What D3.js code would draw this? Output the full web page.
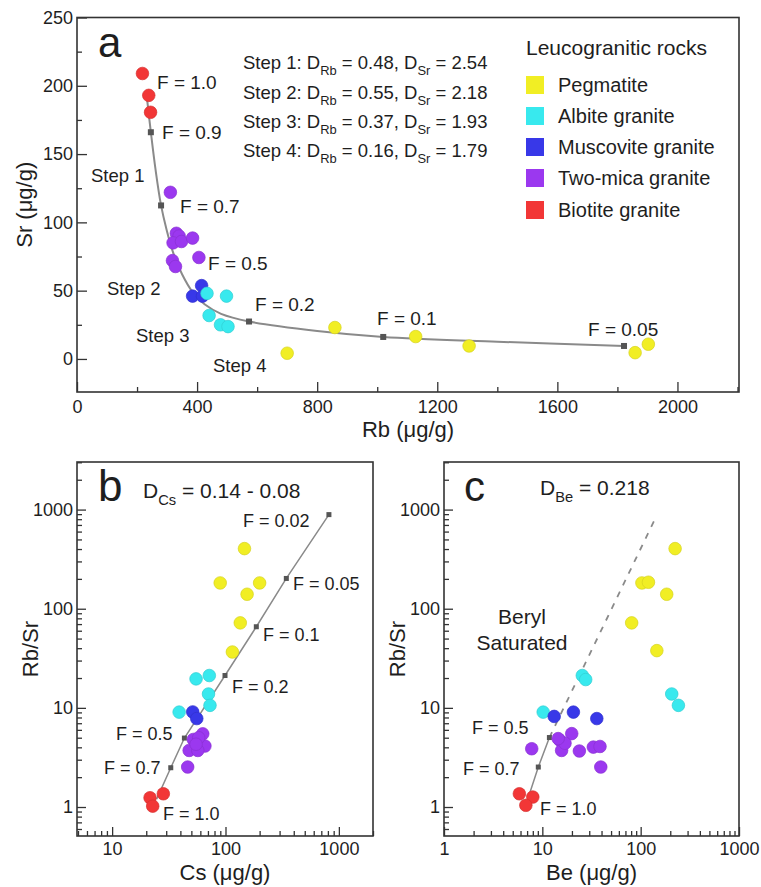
<!DOCTYPE html>
<html><head><meta charset="utf-8">
<script src="https://cdn.jsdelivr.net/npm/d3@7"></script>
<style>
body{margin:0;background:#fff}
text{font-family:"Liberation Sans",Arial,Helvetica,sans-serif;fill:#1e1e1e}
</style>
</head><body>
<svg id="chart" width="761" height="887"></svg>
<script>
// ---------------- DATA ----------------
const groups = ["Pegmatite", "Albite granite", "Muscovite granite", "Two-mica granite", "Biotite granite"];
const groupColors = ["#f1ee24", "#38e9ee", "#3838e8", "#9b38ef", "#f23636"];
// group index: 0 Pegmatite, 1 Albite, 2 Muscovite, 3 Two-mica, 4 Biotite

// Panel a: Rb vs Sr
const aRb    = [218, 239, 245,  311, 331, 340, 320, 348, 385, 406, 318, 328,  415, 385, 418,  433, 498, 440, 478, 503,  700, 859, 1128, 1306, 1859, 1903];
const aSr    = [209, 193, 180.6, 122, 92, 90, 85, 86, 88.5, 74.3, 72, 67.7,  53.7, 46, 46,  48, 46, 31.8, 25, 23.7,  4.2, 23, 16.4, 9.5, 4.6, 10.8];
const aGroup = [4, 4, 4,  3, 3, 3, 3, 3, 3, 3, 3, 3,  2, 2, 2,  1, 1, 1, 1, 1,  0, 0, 0, 0, 0, 0];
// fractionation curve
const aCurveRb = [232, 246, 262, 280, 298, 320, 350, 385, 425, 480, 573, 800, 1020, 1400, 1822];
const aCurveSr = [193, 166, 138, 112.4, 95, 78, 62, 49, 40, 33, 27.4, 20.5, 16.1, 12.6, 9.5];
const aMarkRb = [246, 280, 573, 1020, 1822];
const aMarkSr = [166, 112.4, 27.4, 16.1, 9.5];
const aXTicks = [0, 400, 800, 1200, 1600, 2000];
const aXMinor = [200, 600, 1000, 1400, 1800, 2200];
const aYTicks = [0, 50, 100, 150, 200, 250];
const aYMinor = [25, 75, 125, 175, 225];
const aFLabels = ["F = 1.0", "F = 0.9", "F = 0.7", "F = 0.5", "F = 0.2", "F = 0.1", "F = 0.05"];
const aSteps = [
  ["Step 1", "0.48", "2.54"],
  ["Step 2", "0.55", "2.18"],
  ["Step 3", "0.37", "1.93"],
  ["Step 4", "0.16", "1.79"]
];
const aStepLabels = ["Step 1", "Step 2", "Step 3", "Step 4"];

// Panel b: Cs vs Rb/Sr
const bCs    = [147, 89.8, 200, 155, 135, 115,  55, 72, 70.8, 73, 39,  51.4, 55.8,  63, 52, 65.8, 47.8, 57, 46.4, 58, 55,  21.6, 28.3, 22.8];
const bRbSr  = [404, 182, 182, 140, 72, 36.6,  19.6, 21.2, 13.8, 10.6, 9.06,  9.1, 7.8,  5.47, 4.8, 4.12, 3.72, 3.72, 2.53, 5.0, 4.3,  1.24, 1.36, 1.02];
const bGroup = [0, 0, 0, 0, 0, 0,  1, 1, 1, 1, 1,  2, 2,  3, 3, 3, 3, 3, 3, 3, 3,  4, 4, 4];
const bLineCs   = [24.7, 32.9, 43.4, 99, 187, 344, 817];
const bLineRbSr = [1.2, 2.49, 4.96, 21.2, 65.8, 202, 890];
const bFLabels = ["F = 1.0", "F = 0.7", "F = 0.5", "F = 0.2", "F = 0.1", "F = 0.05", "F = 0.02"];

// Panel c: Be vs Rb/Sr
const cBe    = [224, 103, 120, 184, 81, 146,  25.5, 27.6, 207, 242, 10.2,  13.2, 20.7, 35.8,  7.8, 15.1, 19.9, 15.7, 23.8, 33, 38.6, 39.3, 17, 14.5,  5.84, 8.0, 6.8];
const cRbSr  = [404, 182, 185, 140, 72, 37.8,  21.2, 19.3, 13.8, 10.6, 9.06,  8.2, 9.06, 7.8,  3.87, 4.7, 5.5, 3.72, 3.67, 4.02, 4.08, 2.53, 4.4, 4.9,  1.36, 1.26, 1.04];
const cGroup = [0, 0, 0, 0, 0, 0,  1, 1, 1, 1, 1,  2, 2, 2,  3, 3, 3, 3, 3, 3, 3, 3, 3, 3,  4, 4, 4];
const cLineBe   = [7.3, 9.1, 11.8];
const cLineRbSr = [1.3, 2.53, 5.02];
const cDashBe   = [11.8, 146];
const cDashRbSr = [5.02, 877];
const cFLabels = ["F = 1.0", "F = 0.7", "F = 0.5"];

const logMajorY = [1, 10, 100, 1000];
const logMajorXb = [10, 100, 1000];
const logMajorXc = [1, 10, 100, 1000];

// ---------------- DRAW ----------------
const svg = d3.select("#chart");
const FRAME = "#333";
const LINE = "#8a8a8a";
const MARK = "#555";

function minorLog(lo, hi) {
  const out = [];
  for (let e = -1; e <= 4; e++) for (let m = 2; m <= 9; m++) {
    const v = m * Math.pow(10, e);
    if (v >= lo && v <= hi) out.push(v);
  }
  return out;
}

function rich(g, x, y, parts, fs, anchor) {
  const t = g.append("text").attr("x", x).attr("y", y).attr("font-size", fs)
    .attr("text-anchor", anchor || "start");
  let sub = false;
  parts.forEach(p => {
    const isSub = p[1];
    const ts = t.append("tspan").text(p[0]);
    if (isSub && !sub) ts.attr("dy", fs * 0.32).attr("font-size", fs * 0.7);
    else if (!isSub && sub) ts.attr("dy", -fs * 0.32);
    if (isSub) ts.attr("font-size", fs * 0.7);
    sub = isSub;
  });
  return t;
}

function styleAxis(g, fs) {
  g.select(".domain").remove();
  g.selectAll(".tick line").attr("stroke", FRAME).attr("stroke-width", 1.3);
  g.selectAll(".tick text").attr("font-size", fs).attr("fill", "#1e1e1e")
    .attr("font-family", '"Liberation Sans",Arial,sans-serif');
}

function panel(opt) {
  const g = svg.append("g");
  const x = opt.x, y = opt.y;
  const [x0, x1] = x.range(), [y1, y0] = y.range();
  // axes
  const ax = g.append("g").attr("transform", `translate(0,${y1})`)
    .call(d3.axisBottom(x).tickValues(opt.xTicks).tickSize(-opt.major).tickPadding(opt.xPad).tickFormat(d3.format("d")));
  styleAxis(ax, 18);
  const axm = g.append("g").attr("transform", `translate(0,${y1})`)
    .call(d3.axisBottom(x).tickValues(opt.xMinor).tickSize(-opt.minor).tickFormat(""));
  styleAxis(axm, 18);
  const ay = g.append("g").attr("transform", `translate(${x0},0)`)
    .call(d3.axisLeft(y).tickValues(opt.yTicks).tickSize(-opt.major).tickPadding(4).tickFormat(d3.format("d")));
  styleAxis(ay, 18);
  const aym = g.append("g").attr("transform", `translate(${x0},0)`)
    .call(d3.axisLeft(y).tickValues(opt.yMinor).tickSize(-opt.minor).tickFormat(""));
  styleAxis(aym, 18);
  // frame
  g.append("rect").attr("x", x0).attr("y", y0).attr("width", x1 - x0).attr("height", y1 - y0)
    .attr("fill", "none").attr("stroke", FRAME).attr("stroke-width", 1.6);
  // axis titles
  g.append("text").attr("x", (x0 + x1) / 2).attr("y", opt.xTitleY).attr("text-anchor", "middle")
    .attr("font-size", 22).text(opt.xTitle);
  g.append("text").attr("transform", `translate(${opt.yTitleX},${(y0 + y1) / 2}) rotate(-90)`)
    .attr("text-anchor", "middle").attr("font-size", 22).text(opt.yTitle);
  return g;
}

function dots(g, x, y, xs, ys, gs, r) {
  g.append("g").selectAll("circle").data(xs.map((d, i) => i)).join("circle")
    .attr("cx", i => x(xs[i])).attr("cy", i => y(ys[i])).attr("r", r)
    .attr("fill", i => groupColors[gs[i]])
    .attr("stroke", i => d3.color(groupColors[gs[i]]).darker(0.35))
    .attr("stroke-width", 0.7);
}

function marks(g, x, y, xs, ys, s) {
  g.append("g").selectAll("rect").data(xs.map((d, i) => i)).join("rect")
    .attr("x", i => x(xs[i]) - s / 2).attr("y", i => y(ys[i]) - s / 2)
    .attr("width", s).attr("height", s).attr("fill", MARK);
}

// ---- Panel a ----
{
  const x = d3.scaleLinear().domain([0, 2205]).range([77, 739]);
  const y = d3.scaleLinear().domain([-24.2, 250]).range([392, 17.5]);
  const g = panel({x, y, xTicks: aXTicks, xMinor: aXMinor, yTicks: aYTicks, yMinor: aYMinor,
    major: 10, minor: 5, xPad: 8, xTitle: "Rb (μg/g)", xTitleY: 437, yTitle: "Sr (μg/g)", yTitleX: 32});
  const line = d3.line().x((d, i) => x(aCurveRb[i])).y((d, i) => y(aCurveSr[i])).curve(d3.curveCatmullRom.alpha(0.5));
  g.append("path").attr("d", line(aCurveRb)).attr("fill", "none").attr("stroke", LINE).attr("stroke-width", 2);
  marks(g, x, y, aMarkRb, aMarkSr, 6);
  dots(g, x, y, aRb, aSr, aGroup, 6.3);

  g.append("text").attr("x", 98).attr("y", 57).attr("font-size", 42).text("a");
  const fpos = [[157, 89], [162, 139], [180, 213], [208, 270], [255, 311], [377, 325], [588, 336]];
  aFLabels.forEach((t, i) => g.append("text").attr("x", fpos[i][0]).attr("y", fpos[i][1]).attr("font-size", 19).text(t));
  const spos = [[91, 182], [107, 295], [136, 342], [213, 372]];
  aStepLabels.forEach((t, i) => g.append("text").attr("x", spos[i][0]).attr("y", spos[i][1]).attr("font-size", 18.5).text(t));
  const sy = [69, 99, 128, 157];
  aSteps.forEach((s, i) => rich(g, 243, sy[i],
    [[s[0] + ": D", false], ["Rb", true], [" = " + s[1] + ", D", false], ["Sr", true], [" = " + s[2], false]], 18.5));

  // legend
  g.append("text").attr("x", 526).attr("y", 55).attr("font-size", 21).text("Leucogranitic rocks");
  const ly = [85, 116, 147, 178, 210];
  groups.forEach((name, i) => {
    g.append("rect").attr("x", 526).attr("y", ly[i] - 9).attr("width", 18).attr("height", 18).attr("fill", groupColors[i]);
    g.append("text").attr("x", 558).attr("y", ly[i] + 7).attr("font-size", 20).text(name);
  });
}

// ---- Panel b ----
{
  const x = d3.scaleLog().domain([4.9, 2000]).range([77, 373]);
  const y = d3.scaleLog().domain([0.51, 3020]).range([836, 462]);
  const g = panel({x, y, xTicks: logMajorXb, xMinor: minorLog(4.9, 2000), yTicks: logMajorY, yMinor: minorLog(0.51, 3020),
    major: 9, minor: 5, xPad: 6, xTitle: "Cs (μg/g)", xTitleY: 880, yTitle: "Rb/Sr", yTitleX: 38});
  const line = d3.line().x((d, i) => x(bLineCs[i])).y((d, i) => y(bLineRbSr[i]));
  g.append("path").attr("d", line(bLineCs)).attr("fill", "none").attr("stroke", LINE).attr("stroke-width", 1.5);
  marks(g, x, y, bLineCs.slice(1), bLineRbSr.slice(1), 5);
  dots(g, x, y, bCs, bRbSr, bGroup, 6.3);
  g.append("text").attr("x", 98).attr("y", 501).attr("font-size", 44).text("b");
  rich(g, 143, 498, [["D", false], ["Cs", true], [" = 0.14 - 0.08", false]], 21);
  const fpos = [[163, 820], [104, 774], [116, 740], [232, 693], [263, 641], [293, 590], [243, 527]];
  bFLabels.forEach((t, i) => g.append("text").attr("x", fpos[i][0]).attr("y", fpos[i][1]).attr("font-size", 18).text(t));
}

// ---- Panel c ----
{
  const x = d3.scaleLog().domain([1, 1000]).range([444, 739]);
  const y = d3.scaleLog().domain([0.51, 3020]).range([836, 462]);
  const g = panel({x, y, xTicks: logMajorXc, xMinor: minorLog(1, 1000), yTicks: logMajorY, yMinor: minorLog(0.51, 3020),
    major: 9, minor: 5, xPad: 6, xTitle: "Be (μg/g)", xTitleY: 880, yTitle: "Rb/Sr", yTitleX: 405});
  const line = d3.line().x((d, i) => x(cLineBe[i])).y((d, i) => y(cLineRbSr[i]));
  g.append("path").attr("d", line(cLineBe)).attr("fill", "none").attr("stroke", LINE).attr("stroke-width", 1.5);
  const dline = d3.line().x((d, i) => x(cDashBe[i])).y((d, i) => y(cDashRbSr[i]));
  g.append("path").attr("d", dline(cDashBe)).attr("fill", "none").attr("stroke", LINE).attr("stroke-width", 1.8)
    .attr("stroke-dasharray", "6,7");
  marks(g, x, y, cLineBe.slice(1), cLineRbSr.slice(1), 5);
  dots(g, x, y, cBe, cRbSr, cGroup, 6.3);
  g.append("text").attr("x", 464).attr("y", 501).attr("font-size", 42).text("c");
  rich(g, 540, 495, [["D", false], ["Be", true], [" = 0.218", false]], 21);
  g.append("text").attr("x", 522).attr("y", 624).attr("text-anchor", "middle").attr("font-size", 21).text("Beryl");
  g.append("text").attr("x", 522).attr("y", 650).attr("text-anchor", "middle").attr("font-size", 21).text("Saturated");
  const fpos = [[540, 815], [463, 775], [472, 734]];
  cFLabels.forEach((t, i) => g.append("text").attr("x", fpos[i][0]).attr("y", fpos[i][1]).attr("font-size", 18).text(t));
}
</script>
</body></html>
